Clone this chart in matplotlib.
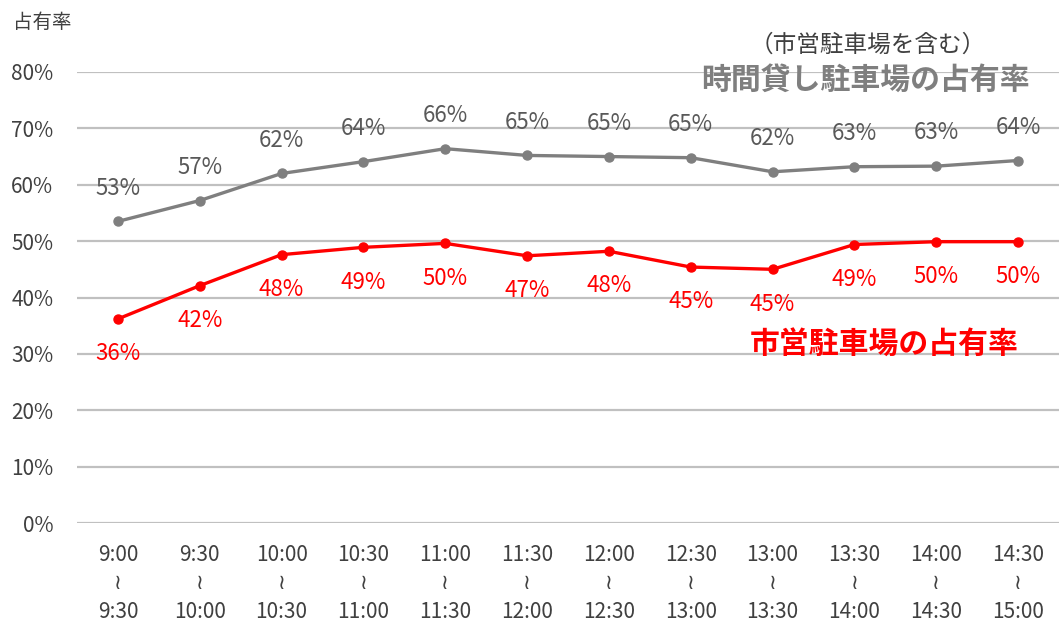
import numpy as np
import matplotlib.pyplot as plt

plt.rcParams['font.family'] = ['Noto Sans CJK JP', 'DejaVu Sans']

slots = ['9:00', '9:30', '10:00', '10:30', '11:00', '11:30',
         '12:00', '12:30', '13:00', '13:30', '14:00', '14:30', '15:00']
hourly = [53.5, 57.2, 62.0, 64.1, 66.4, 65.2, 65.0, 64.8, 62.3, 63.2, 63.3, 64.3]
city = [36.2, 42.1, 47.6, 48.9, 49.6, 47.4, 48.2, 45.4, 45.0, 49.4, 49.9, 49.9]
hourly_lbl = ['53%', '57%', '62%', '64%', '66%', '65%', '65%', '65%', '62%', '63%', '63%', '64%']
city_lbl = ['36%', '42%', '48%', '49%', '50%', '47%', '48%', '45%', '45%', '49%', '50%', '50%']

gray = '#7f7f7f'
red = '#ff0000'

fig = plt.figure(figsize=(10.59, 6.24), dpi=100)
ax = fig.add_axes([77 / 1059, 101 / 624, 982 / 1059, 451 / 624])

x = np.arange(len(hourly))
ax.set_xlim(-0.5, len(hourly) - 0.5)
ax.set_ylim(0, 80)
ax.set_yticks(np.arange(0, 81, 10))
ax.set_yticklabels(['%d%%' % v for v in range(0, 81, 10)])
ax.yaxis.grid(True, color='#c0c0c0', linewidth=1.6)
ax.set_axisbelow(True)
for s in ax.spines.values():
    s.set_visible(False)
ax.tick_params(axis='y', length=0, labelsize=15, labelcolor='#404040', pad=17)

ax.plot(x, hourly, color=gray, linewidth=2.4, marker='o', markersize=6.5)
ax.plot(x, city, color=red, linewidth=2.4, marker='o', markersize=6.5)

for i in range(len(x)):
    ax.annotate(hourly_lbl[i], (x[i], hourly[i]), xytext=(0, 24), textcoords='offset points',
                ha='center', va='center', fontsize=16, color='#595959')
    ax.annotate(city_lbl[i], (x[i], city[i]), xytext=(0, -25), textcoords='offset points',
                ha='center', va='center', fontsize=16, color=red)

ax.set_xticks(x)
ax.set_xticklabels(['%s\n≀\n%s' % (slots[i], slots[i + 1]) for i in range(len(x))],
                   linespacing=1.38, color='#404040', fontsize=15)
ax.tick_params(axis='x', length=0, pad=15)

fig.text(13 / 1059, 1 - 22 / 624, '占有率', fontsize=14, color='#404040', va='center')
fig.text(868 / 1059, 1 - 45 / 624, '（市営駐車場を含む）', fontsize=17, color='#404040',
         ha='center', va='center')
fig.text(865 / 1059, 1 - 80 / 624, '時間貸し駐車場の占有率', fontsize=21.5, color=gray,
         fontweight='bold', ha='center', va='center')
fig.text(884 / 1059, 1 - 345 / 624, '市営駐車場の占有率', fontsize=21.5, color=red,
         fontweight='bold', ha='center', va='center')

fig.savefig('out.png', dpi=100)
